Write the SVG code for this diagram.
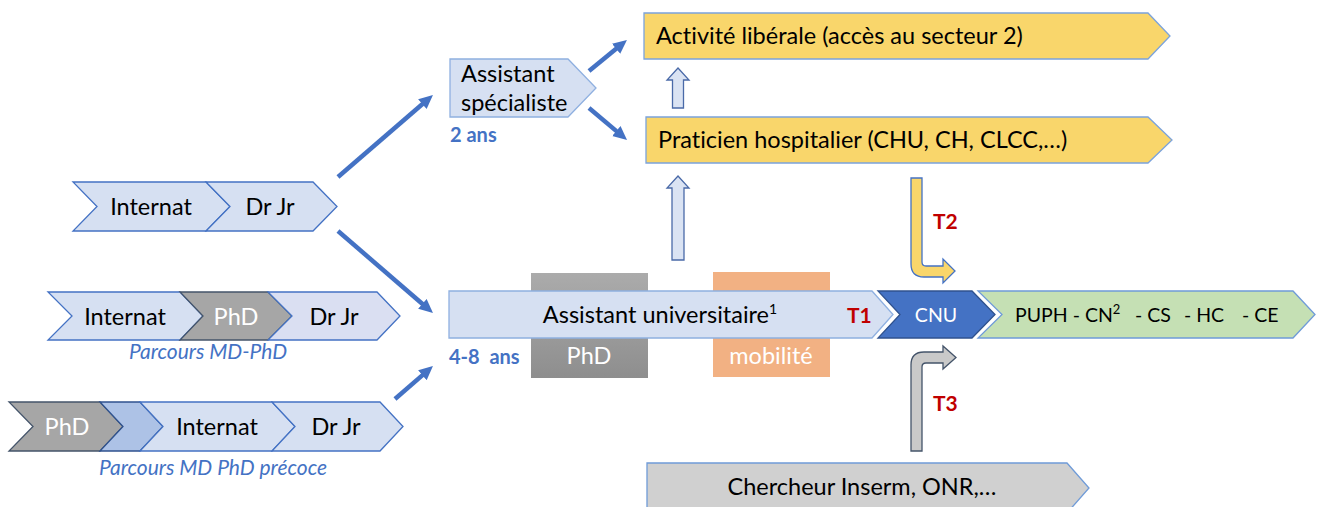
<svg xmlns="http://www.w3.org/2000/svg" width="1317" height="507" viewBox="0 0 1317 507">
<defs>
<marker id="ah" markerUnits="userSpaceOnUse" markerWidth="16" markerHeight="14" refX="4" refY="6.5" orient="auto">
<path d="M0,0 L14,6.5 L0,13 Z" fill="#4472c4"/>
</marker>
<linearGradient id="gphd" x1="0" y1="0" x2="0" y2="1">
<stop offset="0" stop-color="#ababab"/>
<stop offset="1" stop-color="#8e8e8e"/>
</linearGradient>
<style>
text{font-family:Lato,"Liberation Sans",sans-serif;font-variant-ligatures:none;white-space:pre;}
.lb{font-size:23.5px;fill:#000;}
.w{fill:#fff;}
.c{text-anchor:middle;}
.blue{fill:#d6e0f2;stroke:#4472c4;stroke-width:1.3;}
.lav{fill:#dadff2;stroke:#4472c4;stroke-width:1.3;}
.mid{fill:#adc2e6;stroke:#2f528f;stroke-width:1.3;}
.gr{fill:#a6a6a6;stroke:#44546a;stroke-width:1.3;}
.yel{fill:#f9d66b;stroke:#7ba3dc;stroke-width:1.3;}
.lbs{fill:#d6e0f2;stroke:#8fb0e0;stroke-width:1.3;}
.it{font-style:italic;font-size:21px;fill:#4472c4;}
.bb{font-weight:bold;font-size:20px;fill:#4472c4;}
.red{font-weight:bold;font-size:21px;fill:#c00000;}
.con{stroke:#4472c4;stroke-width:4.5;fill:none;marker-end:url(#ah);}
.up{fill:#dae3f3;stroke:#4a6aa8;stroke-width:1.3;}
</style>
</defs>

<g id="row1">
<polygon class="blue" points="73,182 206,182 230,206.5 206,231 73,231 97,206.5"/>
<polygon class="blue" points="206,182 313,182 337,206.5 313,231 206,231 230,206.5"/>
<text class="lb c" x="151" y="215">Internat</text>
<text class="lb c" x="270" y="215">Dr Jr</text>
</g>

<g id="row2">
<polygon class="blue" points="48,292 180,292 203,316 180,340 48,340 72,316"/>
<polygon class="gr" points="180,292 268,292 292,316 268,340 180,340 203,316"/>
<polygon class="lav" points="268,292 377,292 400,316 377,340 268,340 292,316"/>
<text class="lb c" x="125" y="325">Internat</text>
<text class="lb c w" x="236" y="325">PhD</text>
<text class="lb c" x="334" y="325">Dr Jr</text>
<text class="it c" x="208" y="359">Parcours MD-PhD</text>
</g>

<g id="row3">
<polygon class="gr" points="9,402 100,402 123,426.5 100,451 9,451 33,426.5"/>
<polygon class="mid" points="100,402 140,402 163,426.5 140,451 100,451 123,426.5"/>
<polygon class="blue" points="140,402 272,402 295,426.5 272,451 140,451 163,426.5"/>
<polygon class="blue" points="272,402 380,402 403,426.5 380,451 272,451 295,426.5"/>
<text class="lb c w" x="67" y="435">PhD</text>
<text class="lb c" x="217" y="435">Internat</text>
<text class="lb c" x="336" y="435">Dr Jr</text>
<text class="it c" x="213" y="475">Parcours MD PhD précoce</text>
</g>

<g id="assistant-specialiste">
<polygon class="lbs" points="450,59 568,59 596,88 568,117 450,117"/>
<text class="lb" x="461" y="82">Assistant</text>
<text class="lb" x="461" y="111">spécialiste</text>
<text class="bb" x="450" y="142">2 ans</text>
</g>

<g id="activite">
<polygon class="yel" points="644,13 1148,13 1170,36 1148,59 644,59"/>
<text class="lb" x="656" y="44">Activité libérale (accès au secteur 2)</text>
</g>

<g id="praticien">
<polygon class="yel" points="646,117 1148,117 1172,140 1148,163 646,163"/>
<text class="lb" x="658" y="148">Praticien hospitalier (CHU, CH, CLCC,…)</text>
</g>

<g id="assistant-universitaire">
<rect x="531" y="273" width="117" height="105" fill="url(#gphd)"/>
<rect x="713" y="272" width="117" height="105" fill="#f2b183"/>
<polygon class="lbs" points="449,291 872,291 893,314.5 872,338 449,338"/>
<text class="lb c" x="660" y="323">Assistant universitaire<tspan font-size="14" dy="-9">1</tspan></text>
<text class="red" x="847" y="323">T1</text>
<text class="bb" x="449" y="364">4-8  ans</text>
<text class="lb c w" x="589" y="364">PhD</text>
<text class="lb c w" x="771" y="364">mobilité</text>
</g>

<g id="cnu">
<polygon fill="#4472c4" stroke="#2f528f" stroke-width="1.3" points="878,291 972,291 995,314.5 972,338 878,338 900,314.5"/>
<text class="c w" font-size="19.5" x="936" y="322">CNU</text>
</g>

<g id="puph">
<polygon fill="#c5e0b4" stroke="#6f9bd8" stroke-width="1.3" points="978,291 1293,291 1315,314.5 1293,338 978,338 1002,314.5"/>
<text font-size="19.5" x="1015" y="322">PUPH - CN<tspan font-size="13" dy="-8">2</tspan><tspan dy="8" x="1135">- CS</tspan><tspan x="1184">- HC</tspan><tspan x="1242">- CE</tspan></text>
</g>

<g id="chercheur">
<polygon fill="#d0d0d0" stroke="#6f9bd8" stroke-width="1.3" points="647,463 1067,463 1089,488 1067,513 647,513"/>
<text class="lb c" x="862" y="495">Chercheur Inserm, ONR,…</text>
</g>

<g id="t2">
<path fill="#f9d66b" stroke="#4472c4" stroke-width="1.3" d="M911,178 L922,178 L922,262 Q922,266 926,266 L943,266 L943,259 L955,271 L943,283 L943,277 L924,277 Q911,277 911,264 Z"/>
<text class="red" x="933" y="229">T2</text>
</g>

<g id="t3">
<path fill="#c9c9c9" stroke="#44546a" stroke-width="1.3" d="M911,451 L922,451 L922,367 Q922,363 926,363 L943,363 L943,369 L956,357.5 L943,346 L943,352 L924,352 Q911,352 911,365 Z"/>
<text class="red" x="933" y="411">T3</text>
</g>

<g id="connectors">
<line class="con" x1="338" y1="177" x2="425.4" y2="101.5"/>
<line class="con" x1="338" y1="231" x2="425.4" y2="306.5"/>
<line class="con" x1="395" y1="399" x2="425.4" y2="372.6"/>
<line class="con" x1="589" y1="71" x2="619.2" y2="46.3"/>
<line class="con" x1="589" y1="108" x2="619.4" y2="133.6"/>
<path class="up" d="M678,68 L689,80 L683.5,80 L683.5,108 L672.5,108 L672.5,80 L667,80 Z"/>
<path class="up" d="M678,176 L689,188 L684,188 L684,260 L672,260 L672,188 L667,188 Z"/>
</g>
</svg>
